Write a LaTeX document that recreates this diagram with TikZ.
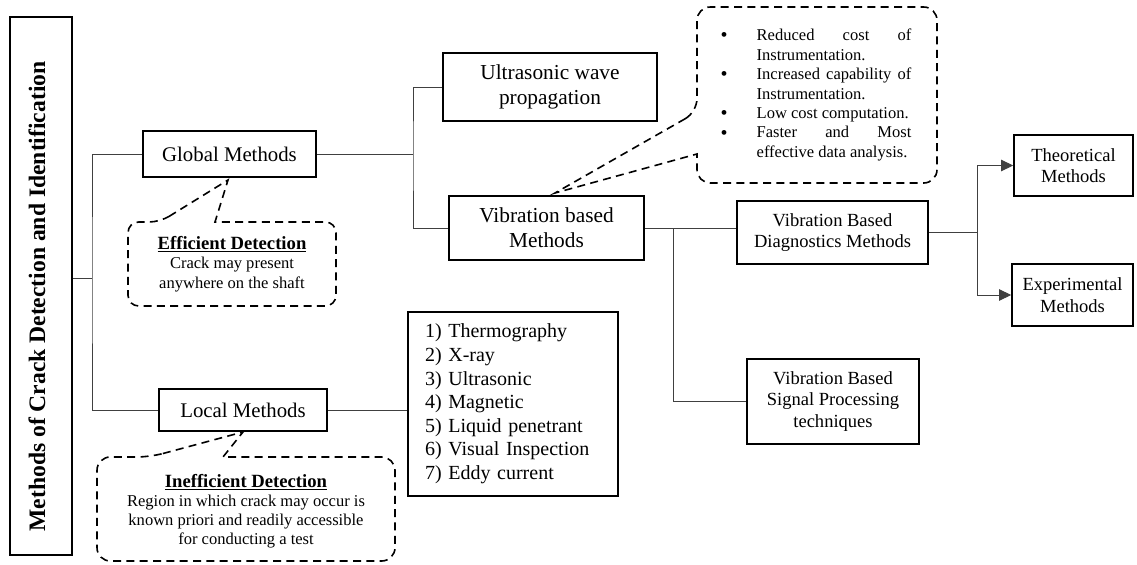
\documentclass[tikz,border=0pt]{standalone}
\usepackage{fontspec}
\setmainfont{Liberation Serif}
\usetikzlibrary{arrows.meta}
\newcommand{\bigdot}{\smash{\raisebox{-1pt}{\fontsize{15}{15}\selectfont\textbullet}}}
\newcommand{\calloutHead}[1]{{\bfseries\fontsize{14}{14.6}\selectfont\underline{#1}}}
\begin{document}
\begin{tikzpicture}[x=0.75pt,y=-0.75pt,
  box/.style={draw=black, line width=1.2pt, inner sep=0pt, align=center},
  big/.style={font=\fontsize{16}{18.8}\selectfont},
  mid/.style={font=\fontsize{13.9}{16}\selectfont},
  link/.style={draw=black!75, line width=0.75pt},
  callout/.style={draw=black, line width=1.2pt, dash pattern=on 6pt off 4pt},
  note/.style={align=center, inner sep=0pt, font=\fontsize{12.4}{14.6}\selectfont},
  tip/.style={-{Triangle[length=9pt,width=8.5pt]}}
]
\useasboundingbox (0,0) rectangle (1137,564);

% title column
\node[box, minimum width=46.5pt, minimum height=403.5pt] (title) at (41,286) {};
\node[rotate=90, inner sep=0pt, font=\bfseries\fontsize{17.7}{20}\selectfont] (titletext) at (37,296.5) {Methods of Crack Detection and Identification};

% method boxes
\node[box, font=\fontsize{15.6}{18.8}\selectfont, minimum width=129.75pt, minimum height=34.5pt] (gl) at (229.5,154) {Global Methods};
\node[box, font=\fontsize{15.6}{18.8}\selectfont, minimum width=126pt, minimum height=31.5pt] (lo) at (243,410) {Local Methods};
\node[box, big, minimum width=160.5pt, minimum height=51pt] (us) at (550,87) {Ultrasonic wave\\propagation};
\node[box, big, minimum width=146.25pt, minimum height=48pt] (vb) at (546.5,228) {Vibration based\\Methods};
\node[box, align=left, text width=132pt, inner xsep=12.75pt, minimum height=138pt,
      font=\fontsize{15}{17.7}\selectfont] (ls) at (513,404)
  {1) Thermography\\2) X-ray\\3) Ultrasonic\\4) Magnetic\\5) Liquid penetrant\\6) Visual Inspection\\7) Eddy current};
\node[box, mid, minimum width=143.25pt, minimum height=47.25pt] (dg) at (832.5,232.5) {Vibration Based\\Diagnostics Methods};
\node[box, mid, minimum width=129pt, minimum height=63.75pt] (sp) at (833,401.5) {Vibration Based\\Signal Processing\\techniques};
\node[box, mid, minimum width=89.25pt, minimum height=45.75pt] (th) at (1073.5,165.5) {Theoretical\\Methods};
\node[box, mid, minimum width=90.75pt, minimum height=46.5pt] (ex) at (1072.5,295) {Experimental\\Methods};

% tree connectors
\coordinate (j0) at (92,278);
\draw[link] (title.east |- j0) -- (j0);
\draw[link] (gl.west) -| (j0) |- (lo.west);
\coordinate (j1) at (413,154);
\draw[link] (gl.east) -- (j1);
\draw[link] (us.west) -| (j1) |- (vb.west);
\draw[link] (lo.east) -- (ls.west |- lo.east);
\draw[link] (vb.east) -- (dg.west |- vb.east);
\coordinate (j2) at (673,228);
\draw[link] (j2) |- (sp.west);
\coordinate (j3) at (977,232.5);
\draw[link] (dg.east) -- (j3);
\draw[link, tip] (j3) |- (th.west);
\draw[link, tip] (j3) |- (ex.west);

% callout: efficient detection
\draw[callout, rounded corners=8] (160,222) [sharp corners] -- (228,180) -- (215,222)
  [rounded corners=8] -- (336,222) -- (336,306) -- (128,306) -- (128,222) -- cycle;
\node[note] (eff) at (232,264) {\calloutHead{Efficient Detection}\\Crack may present\\anywhere on the shaft};

% callout: inefficient detection
\draw[callout, rounded corners=10] (150,457) [sharp corners] -- (243,432) -- (223,457)
  [rounded corners=10] -- (395,457) -- (395,561) -- (97,561) -- (97,457) -- cycle;
\node[note, font=\fontsize{12.4}{14.25}\selectfont] (ineff) at (246,511) {\calloutHead{Inefficient Detection}\\Region in which crack may occur is\\known priori and readily accessible\\for conducting a test};

% callout: advantages of vibration based methods
\draw[callout, rounded corners=10] (697,112) [sharp corners] -- (555,193) -- (697,154)
  [rounded corners=10] -- (697,183) -- (937,183) -- (937,7) -- (697,7) -- cycle;
\node[note, align=left, font=\fontsize{12.4}{14.6}\selectfont] (adv) at (816,95) {%
\makebox[27pt][l]{\bigdot}\makebox[116pt][s]{Reduced cost of}\\
\hspace*{27pt}Instrumentation.\\
\makebox[27pt][l]{\bigdot}\makebox[116pt][s]{Increased capability of}\\
\hspace*{27pt}Instrumentation.\\
\makebox[27pt][l]{\bigdot}Low cost computation.\\
\makebox[27pt][l]{\bigdot}\makebox[116pt][s]{Faster and Most}\\
\hspace*{27pt}effective data analysis.};
\end{tikzpicture}
\end{document}
